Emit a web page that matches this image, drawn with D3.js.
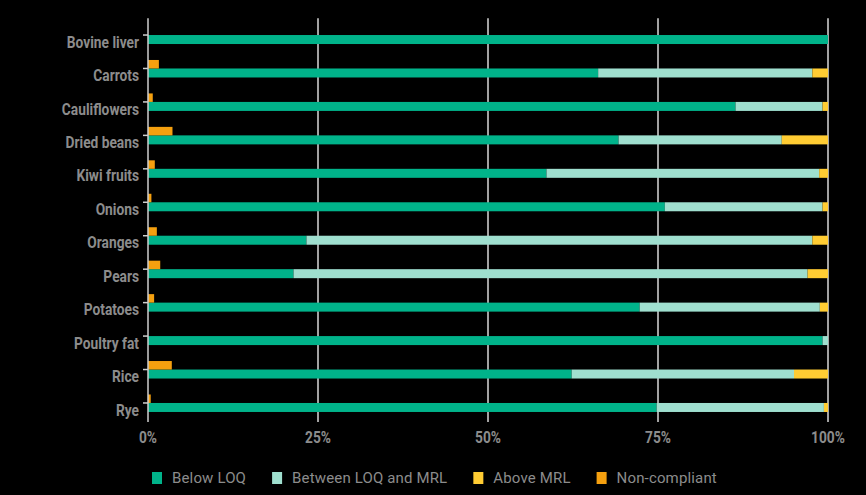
<!DOCTYPE html>
<html>
<head>
<meta charset="utf-8">
<script src="https://cdn.jsdelivr.net/npm/d3@7"></script>
<style>
  html, body { margin: 0; padding: 0; background: #000; }
  svg { display: block; }
  text { font-family: Roboto, "Noto Sans", sans-serif; fill: #8c8c8c; }
</style>
</head>
<body>
<svg id="chart" width="866" height="495"></svg>
<script>
// Share of samples (%) per commodity
const categories = ['Bovine liver', 'Carrots', 'Cauliflowers', 'Dried beans', 'Kiwi fruits', 'Onions',
    'Oranges', 'Pears', 'Potatoes', 'Poultry fat', 'Rice', 'Rye'];
const belowLOQ     = [100, 66.2, 86.4, 69.2, 58.6, 76.0, 23.3, 21.4, 72.3, 99.2, 62.3, 74.8];
const betweenLOQMRL = [0, 31.5, 12.8, 24.0, 40.1, 23.2, 74.4, 75.6, 26.5, 0.8, 32.7, 24.6];
const aboveMRL     = [0, 2.3, 0.8, 6.8, 1.3, 0.8, 2.3, 3.0, 1.2, 0, 5.0, 0.6];
const nonCompliant = [0, 1.6, 0.7, 3.6, 1.0, 0.5, 1.3, 1.8, 0.9, 0, 3.5, 0.4];
const xTicks = [0, 25, 50, 75, 100];

const seriesNames = ['Below LOQ', 'Between LOQ and MRL', 'Above MRL', 'Non-compliant'];
const colors = ['#00b38a', '#9fdfcf', '#ffcc33', '#f5a00f'];

const svg = d3.select('#chart');
const plotLeft = 148, plotRight = 828;
const plotTop = 18.3, step = 33.45;
const barH = 9;
const squeeze = 0.86; // labels are drawn narrow, like a condensed face

const x = d3.scaleLinear().domain([0, 100]).range([plotLeft, plotRight]);
const y = d3.scaleBand()
    .domain(categories)
    .range([plotTop, plotTop + step * categories.length])
    .padding(0);
const mid = d => y(d) + y.bandwidth() / 2;

const rows = categories.map((c, i) => ({
    name: c,
    values: [belowLOQ[i], betweenLOQMRL[i], aboveMRL[i]],
    nc: nonCompliant[i]
}));

// gridlines
const gridBottom = 422;
svg.append('g')
    .selectAll('line')
    .data(xTicks.slice(1))
    .enter()
    .append('line')
    .attr('x1', d => x(d)).attr('x2', d => x(d))
    .attr('y1', plotTop).attr('y2', gridBottom)
    .style('stroke', '#d9d9d9')
    .style('stroke-width', 1.5);

// stacked bars
const stack = d3.stack().keys([0, 1, 2]).value((d, k) => d.values[k]);
const layers = stack(rows);

svg.append('g')
    .selectAll('g')
    .data(layers)
    .enter()
    .append('g')
    .style('fill', (d, i) => colors[i])
    .selectAll('rect')
    .data(d => d)
    .enter()
    .append('rect')
    .attr('x', d => x(d[0]))
    .attr('width', d => Math.max(0, x(d[1]) - x(d[0])))
    .attr('y', d => mid(d.data.name))
    .attr('height', barH);

// non-compliant bars
svg.append('g')
    .selectAll('rect')
    .data(rows)
    .enter()
    .append('rect')
    .attr('x', x(0))
    .attr('width', d => x(d.nc) - x(0))
    .attr('y', d => mid(d.name) - 8.5)
    .attr('height', 8.5)
    .style('fill', colors[3]);

// y axis line + ticks
svg.append('line')
    .attr('x1', x(0)).attr('x2', x(0))
    .attr('y1', plotTop).attr('y2', gridBottom)
    .style('stroke', '#cfcfcf')
    .style('stroke-width', 1.5);

svg.append('g')
    .selectAll('line')
    .data(categories)
    .enter()
    .append('line')
    .attr('x1', x(0) - 5).attr('x2', x(0))
    .attr('y1', mid)
    .attr('y2', mid)
    .style('stroke', '#cfcfcf')
    .style('stroke-width', 1.5);

// category labels
svg.append('g')
    .selectAll('text')
    .data(categories)
    .enter()
    .append('text')
    .attr('transform', d => `translate(139,${mid(d) + 7}) scale(${squeeze},1)`)
    .attr('dy', '0.35em')
    .attr('text-anchor', 'end')
    .style('font-size', '16px')
    .style('font-weight', 700)
    .text(d => d);

// x tick labels
svg.append('g')
    .selectAll('text')
    .data(xTicks)
    .enter()
    .append('text')
    .attr('transform', d => `translate(${x(d)},437) scale(${squeeze},1)`)
    .attr('dy', '0.35em')
    .attr('text-anchor', 'middle')
    .style('font-size', '16px')
    .style('font-weight', 700)
    .text(d => d + '%');

// legend
const legend = svg.append('g').attr('transform', 'translate(152,478)');
let lx = 0;
seriesNames.forEach((name, i) => {
    const item = legend.append('g').attr('transform', `translate(${lx},0)`);
    item.append('rect')
        .attr('x', 0).attr('y', -6)
        .attr('width', 10).attr('height', 12)
        .style('fill', colors[i]);
    const t = item.append('text')
        .attr('x', 20)
        .attr('y', 0)
        .attr('dy', '0.35em')
        .style('font-size', '15px')
        .style('letter-spacing', '0.15px')
        .text(name);
    lx += 20 + t.node().getComputedTextLength() + 26;
});
</script>
</body>
</html>
